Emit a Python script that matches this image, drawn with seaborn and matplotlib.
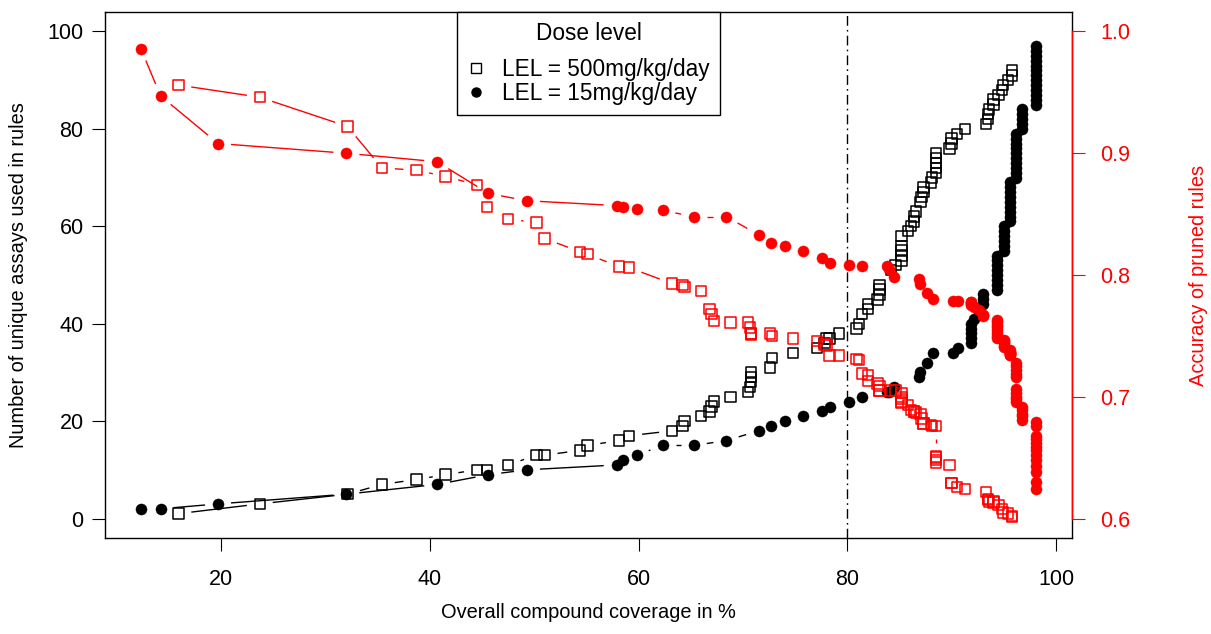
import numpy as np
import matplotlib
matplotlib.use("Agg")
import matplotlib.pyplot as plt
from matplotlib.lines import Line2D
from matplotlib.collections import LineCollection
import seaborn as sns

# ---------------- data ----------------
# LEL = 500 mg/kg/day
cov500 = [15.9, 23.7, 32.1, 35.4, 38.7, 41.5, 44.5, 45.5, 47.5, 50.2, 51.0, 54.4, 55.1,
          58.1, 59.1, 63.2, 64.2, 64.4, 66.0, 66.8, 67.0, 67.2, 68.8, 70.5, 70.7, 70.8,
          70.8, 70.8, 72.6, 72.8, 74.8, 77.1, 77.8, 78.0, 78.3, 79.2, 80.9, 81.1, 81.4,
          82.0, 82.0, 82.9, 83.1, 83.1, 83.1, 84.2, 84.6, 85.2, 85.2, 85.2, 85.2, 85.2,
          85.8, 86.1, 86.4, 86.4, 86.6, 87.0, 87.1, 87.3, 87.3, 88.0, 88.1, 88.5, 88.5,
          88.5, 88.5, 88.5, 89.8, 90.0, 90.0, 90.5, 91.3, 93.3, 93.5, 93.5, 93.6, 94.0,
          94.0, 94.5, 94.8, 94.9, 95.4, 95.8, 95.8]
n500 = [1, 3, 5, 7, 8, 9, 10, 10, 11, 13, 13, 14, 15,
        16, 17, 18, 19, 20, 21, 22, 23, 24, 25, 26, 27, 28,
        29, 30, 31, 33, 34, 35, 36, 37, 37, 38, 39, 40, 42,
        43, 44, 45, 46, 47, 48, 51, 52, 53, 54, 55, 56, 58,
        59, 60, 61, 62, 63, 65, 66, 67, 68, 69, 70, 71, 72,
        73, 74, 75, 76, 77, 78, 79, 80, 81, 82, 83, 84, 85,
        86, 87, 88, 89, 90, 91, 92]
acc500 = [0.956, 0.946, 0.922, 0.888, 0.886, 0.881, 0.874, 0.856, 0.846, 0.843, 0.830, 0.819, 0.817,
          0.807, 0.806, 0.793, 0.792, 0.790, 0.787, 0.772, 0.768, 0.762, 0.761, 0.761, 0.757, 0.752,
          0.752, 0.751, 0.752, 0.750, 0.748, 0.746, 0.743, 0.742, 0.734, 0.734, 0.731, 0.730, 0.719,
          0.718, 0.713, 0.711, 0.709, 0.705, 0.705, 0.705, 0.705, 0.703, 0.700, 0.698, 0.696, 0.695,
          0.693, 0.689, 0.688, 0.688, 0.687, 0.686, 0.682, 0.678, 0.678, 0.677, 0.676, 0.676, 0.651,
          0.650, 0.648, 0.646, 0.644, 0.629, 0.629, 0.626, 0.624, 0.622, 0.616, 0.615, 0.614, 0.614,
          0.613, 0.611, 0.608, 0.605, 0.604, 0.602, 0.601]

# LEL = 15 mg/kg/day
cov15 = [12.3, 14.2, 19.7, 32.0, 40.7, 45.6, 49.3, 57.9, 58.5, 59.8, 62.3, 65.3, 68.4,
         71.5, 72.7, 74.0, 75.8, 77.6, 78.3, 80.2, 81.4, 83.8, 84.0, 84.5, 86.9, 87.0,
         87.6, 88.2, 90.1, 90.6, 91.9, 91.9, 91.9, 91.9, 91.9, 92.1, 92.6, 93.0, 93.0, 93.0,
         94.3, 94.3, 94.3, 94.3, 94.3, 94.3, 94.3, 94.3,
         95.0, 95.0, 95.0, 95.0, 95.0, 95.0,
         95.6, 95.6, 95.6, 95.6, 95.6, 95.6, 95.6, 95.6, 95.6,
         96.2, 96.2, 96.2, 96.2, 96.2, 96.2, 96.2, 96.2, 96.2, 96.2,
         96.7, 96.7, 96.7, 96.7, 96.7,
         98.1, 98.1, 98.1, 98.1, 98.1, 98.1, 98.1, 98.1, 98.1, 98.1, 98.1, 98.1, 98.1]
n15 = [2, 2, 3, 5, 7, 9, 10, 11, 12, 13, 15, 15, 16,
       18, 19, 20, 21, 22, 23, 24, 25, 26, 26, 27, 29, 30,
       32, 34, 34, 35, 36, 37, 38, 39, 40, 41, 42, 44, 45, 46,
       47, 48, 49, 50, 51, 52, 53, 54,
       55, 56, 57, 58, 59, 60,
       61, 62, 63, 64, 65, 66, 67, 68, 69,
       70, 71, 72, 73, 74, 75, 76, 77, 78, 79,
       80, 81, 82, 83, 84,
       85, 86, 87, 88, 89, 90, 91, 92, 93, 94, 95, 96, 97]
acc15 = [0.986, 0.947, 0.908, 0.900, 0.893, 0.867, 0.861, 0.857, 0.856, 0.854, 0.853, 0.848, 0.848,
         0.833, 0.826, 0.824, 0.820, 0.814, 0.810, 0.808, 0.807, 0.807, 0.805, 0.798, 0.797, 0.793,
         0.785, 0.780, 0.779, 0.779, 0.778, 0.778, 0.777, 0.776, 0.775, 0.774, 0.771, 0.767, 0.767, 0.766,
         0.763, 0.761, 0.759, 0.757, 0.755, 0.752, 0.750, 0.748,
         0.747, 0.746, 0.745, 0.744, 0.742, 0.741,
         0.738, 0.737, 0.737, 0.736, 0.736, 0.735, 0.735, 0.734, 0.734,
         0.728, 0.725, 0.722, 0.719, 0.716, 0.706, 0.703, 0.700, 0.698, 0.696,
         0.692, 0.689, 0.686, 0.684, 0.681,
         0.679, 0.676, 0.668, 0.665, 0.662, 0.659, 0.656, 0.652, 0.648, 0.643, 0.638, 0.630, 0.624]

x_ticks = [20, 40, 60, 80, 100]
y_ticks = [0, 20, 40, 60, 80, 100]
acc_ticks = [0.6, 0.7, 0.8, 0.9, 1.0]
acc_tick_labels = ["0.6", "0.7", "0.8", "0.9", "1.0"]
legend_title = "Dose level"
legend_labels = ["LEL = 500mg/kg/day", "LEL = 15mg/kg/day"]
cutoff = 80

# ---------------- style ----------------
sns.set_style("white")
plt.rcParams["font.family"] = ["Liberation Sans", "DejaVu Sans"]
for key in ["text.color", "axes.labelcolor", "xtick.color", "ytick.color", "axes.edgecolor"]:
    plt.rcParams[key] = "black"
RED = "#FF0000"
TICK_FS = 15.5
LAB_FS = 14.4
LEG_FS = 16.3

W, H = 1211, 634
fig = plt.figure(figsize=(W / 100, H / 100), dpi=100)
ax = fig.add_axes([105 / W, 1 - 538 / H, (1072 - 105) / W, (538 - 12) / H])
ax2 = ax.twinx()

# R-style limits (4% extension)
xr = (min(cov15 + cov500), max(cov15 + cov500))
pad = 0.04 * (xr[1] - xr[0])
ax.set_xlim(xr[0] - pad, xr[1] + pad)
ax.set_ylim(0 - 4, 100 + 4)
ax2.set_ylim(0.6 - 0.016, 1.0 + 0.016)


def gapped(axis, xs, ys, color, gap=13, lw=1.0):
    """R type='b' lines: segments shortened around each point."""
    pts = axis.transData.transform(np.column_stack([xs, ys]))
    inv = axis.transData.inverted()
    segs = []
    for p0, p1 in zip(pts[:-1], pts[1:]):
        d = p1 - p0
        L = np.hypot(d[0], d[1])
        if L <= 2 * gap + 1:
            continue
        u = d / L
        segs.append(inv.transform(np.array([p0 + u * gap, p1 - u * gap])))
    axis.add_collection(LineCollection(segs, colors=color, linewidths=lw, zorder=2))


# black: number of assays
sns.scatterplot(x=cov500, y=n500, marker="s", s=56, facecolor="none",
                edgecolor="black", linewidth=1.1, ax=ax, zorder=3)
sns.scatterplot(x=cov15, y=n15, marker="o", s=64, color="black",
                edgecolor="black", linewidth=0.3, ax=ax, zorder=3)
gapped(ax, cov500, n500, "black")
gapped(ax, cov15, n15, "black")
ax.axvline(cutoff, color="black", lw=1.0, linestyle=(0, (7, 3, 1.2, 3)), zorder=4)

# red: accuracy
sns.scatterplot(x=cov500, y=acc500, marker="s", s=56, facecolor="none",
                edgecolor=RED, linewidth=1.1, ax=ax2, zorder=3)
sns.scatterplot(x=cov15, y=acc15, marker="o", s=64, color=RED,
                edgecolor=RED, linewidth=0.3, ax=ax2, zorder=3)
gapped(ax2, cov500, acc500, RED)
gapped(ax2, cov15, acc15, RED)

# axes / ticks
tick_len = 9.4
ax.set_xticks(x_ticks)
ax.set_yticks(y_ticks)
ax.set_yticklabels([str(v) for v in y_ticks])
ax.tick_params(axis="x", direction="out", length=tick_len, width=0.8,
               labelsize=TICK_FS, color="black", labelcolor="black", pad=13,
               bottom=True, top=False)
ax.tick_params(axis="y", direction="out", length=tick_len, width=0.8,
               labelsize=TICK_FS, color="black", labelcolor="black", pad=6,
               left=True, right=False)
for sp in ax.spines.values():
    sp.set_visible(True)
    sp.set_color("black")
    sp.set_linewidth(1.0)

ax2.set_yticks(acc_ticks)
ax2.set_yticklabels(acc_tick_labels)
ax2.tick_params(axis="y", right=True, left=False, direction="out", length=tick_len,
                width=0.8, colors=RED, labelsize=TICK_FS, pad=11)
for name, sp in ax2.spines.items():
    sp.set_visible(name == "right")
ax2.spines["right"].set_color(RED)
ax2.spines["right"].set_bounds(0.6, 1.0)
ax2.spines["right"].set_linewidth(1.0)
ax.set_xlabel("")
ax.set_ylabel("")
ax2.set_ylabel("")

fig.text(19 / W, 1 - 275 / H, "Number of unique assays used in rules", rotation=90,
         ha="center", va="center", fontsize=LAB_FS, color="black")
fig.text(1198 / W, 1 - 275 / H, "Accuracy of pruned rules", rotation=90,
         ha="center", va="center", fontsize=LAB_FS, color=RED)
fig.text(588.5 / W, 1 - 612 / H, "Overall compound coverage in %",
         ha="center", va="center", fontsize=LAB_FS, color="black")

handles = [Line2D([], [], marker="s", ls="none", mfc="none", mec="black", ms=6.5, mew=1.0),
           Line2D([], [], marker="o", ls="none", mfc="black", mec="black", ms=6.5)]
leg = ax2.legend(handles, legend_labels, title=legend_title, loc="upper center",
                 bbox_to_anchor=(0.5, 1.0), borderaxespad=0, fontsize=LEG_FS,
                 title_fontsize=LEG_FS, frameon=True, fancybox=False, framealpha=1,
                 edgecolor="black", borderpad=0.45, labelspacing=0.06,
                 handlelength=0.8, handletextpad=0.75)
leg.get_frame().set_linewidth(1.0)
leg._legend_box.sep = 9
leg.set_zorder(10)

fig.savefig("out.png", dpi=100, facecolor="white")
